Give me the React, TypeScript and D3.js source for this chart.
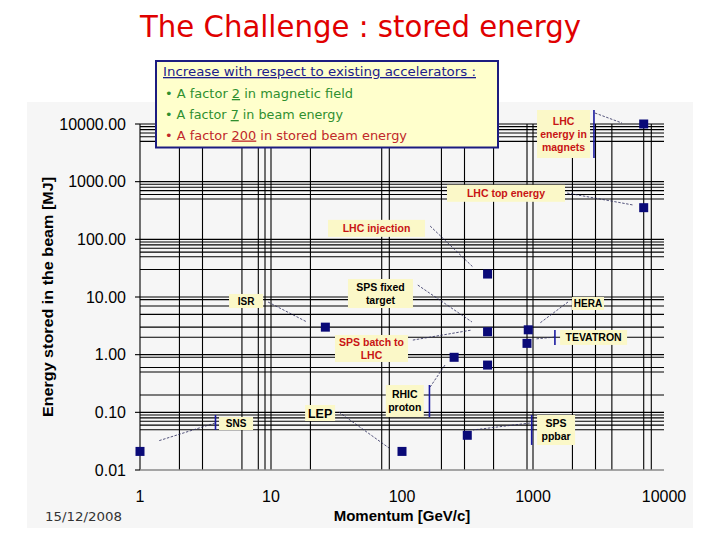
import React from "react";
import * as d3 from "d3";

// ---------- data ----------
const momentumTicks = [1, 10, 100, 1000, 10000];
const momentumTickLabels = ["1", "10", "100", "1000", "10000"];
const energyTicks = [0.01, 0.1, 1, 10, 100, 1000, 10000];
const energyTickLabels = ["0.01", "0.10", "1.00", "10.00", "100.00", "1000.00", "10000.00"];
const momentumGrid = [2, 3, 6, 8, 9, 10, 20, 70, 80, 200, 300, 500, 900, 1000, 2000, 3000, 4000, 7000, 8000];
const energyGrid = [
  10000, 9000, 8000, 7000, 6000, 5000,
  1000, 900, 800, 700, 600, 500,
  100, 90, 80, 70, 60, 50, 30,
  10, 9, 7, 5, 3, 2,
  1, 0.9, 0.6, 0.5, 0.2,
  0.1, 0.09, 0.08, 0.07, 0.06, 0.05,
];

const accelerators = ["SNS", "ISR", "LEP", "RHIC proton", "SPS ppbar", "LHC injection", "SPS fixed target", "SPS batch to LHC", "HERA", "TEVATRON", "LHC energy in magnets", "LHC top energy"];
const momentum = [1, 26, 100, 250, 315, 450, 450, 450, 920, 900, 7000, 7000];
const storedEnergy = [0.021, 3.0, 0.021, 0.9, 0.04, 25, 2.5, 0.66, 2.7, 1.57, 10000, 354];

type Ann = {
  lines: string[];
  red: boolean;
  at: [number, number];
  w: number;
  h: number;
  fs: number;
  leader: [[number, number], [number, number]];
  bar?: [number, number, number];
};

const annotations: Ann[] = [
  { lines: ["LHC", "energy in", "magnets"], red: true, at: [1710, 6710], w: 53, h: 48, fs: 10.5, leader: [[2970, 15500], [4780, 10400]], bar: [2920, 17500, 2570] },
  { lines: ["LHC top energy"], red: true, at: [622, 628], w: 118, h: 17, fs: 10.5, leader: [[1820, 635], [5800, 394]] },
  { lines: ["LHC injection"], red: true, at: [63.9, 155], w: 97, h: 17, fs: 10.5, leader: [[164, 170], [348, 33.1]] },
  { lines: ["SPS fixed", "target"], red: false, at: [68.5, 11.5], w: 65, h: 29, fs: 10.5, leader: [[132, 16.1], [342, 3.69]] },
  { lines: ["ISR"], red: false, at: [6.45, 8.53], w: 34, h: 14, fs: 10, leader: [[9.49, 8.19], [18.8, 3.69]] },
  { lines: ["SPS batch to", "LHC"], red: true, at: [58.5, 1.28], w: 73, h: 27, fs: 10.5, leader: [[121, 1.79], [342, 2.68]] },
  { lines: ["RHIC", "proton"], red: false, at: [105, 0.157], w: 38, h: 32, fs: 10.5, leader: [[164, 0.275], [213, 0.662]], bar: [162, 0.298, 0.083] },
  { lines: ["LEP"], red: false, at: [23.7, 0.0973], w: 30, h: 16, fs: 12.5, leader: [[33.0, 0.101], [79.6, 0.0241]] },
  { lines: ["SNS"], red: false, at: [5.41, 0.064], w: 34, h: 13, fs: 10, leader: [[3.74, 0.0653], [1.37, 0.0318]], bar: [3.77, 0.09, 0.0494] },
  { lines: ["HERA"], red: false, at: [2630, 7.71], w: 32, h: 13, fs: 10, leader: [[1850, 8.19], [1130, 3.54]] },
  { lines: ["TEVATRON"], red: false, at: [2900, 1.99], w: 67, h: 15, fs: 10.5, leader: [[1470, 2.02], [1035, 1.87]], bar: [1470, 2.68, 1.47] },
  { lines: ["SPS", "ppbar"], red: false, at: [1500, 0.0494], w: 38, h: 30, fs: 10.5, leader: [[948, 0.0653], [348, 0.0494]], bar: [977, 0.09, 0.0272] },
];

const ARIAL = "'Liberation Sans', Arial, sans-serif";
const HAND = "'DejaVu Sans', 'Open Sans', sans-serif";

export default function App() {
  const W = 720, H = 540;
  const x = d3.scaleLog().domain([1, 10000]).range([140, 664]);
  const y = d3.scaleLog().domain([0.01, 10000]).range([470, 124]);
  const [x0, x1] = x.range();
  const [y0, y1] = y.range();

  return (
    <svg width={W} height={H} style={{ position: "absolute", left: 0, top: 0, background: "#fff" }}>
      <rect x={0} y={0} width={W} height={H} fill="#ffffff" />
      <rect x={27} y={102} width={666} height={426} fill="#f6f6f6" />

      {/* title */}
      <text x={140} y={37} fontFamily={HAND} fontSize={30} fill="#e00000" textLength={441} lengthAdjust="spacingAndGlyphs">
        The Challenge : stored energy
      </text>

      {/* grid */}
      <g stroke="#000" strokeWidth={1.1}>
        {energyGrid.map((v, i) => (
          <line key={"h" + i} x1={x0} x2={x1} y1={y(v)} y2={y(v)} />
        ))}
        {momentumGrid.map((v, i) => (
          <line key={"v" + i} x1={x(v)} x2={x(v)} y1={y0} y2={y1} />
        ))}
        <line x1={x0} x2={x0} y1={y0} y2={y1} />
        {energyTicks.map((v, i) => (
          <line key={"t" + i} x1={x0 - 5} x2={x0} y1={y(v)} y2={y(v)} />
        ))}
      </g>
      <line x1={x0} x2={x1} y1={y0} y2={y0} stroke="#8a8a8a" strokeWidth={1.5} />

      {/* axes labels */}
      <g fontFamily={ARIAL} fontSize={16} fill="#000">
        {energyTicks.map((v, i) => (
          <text key={"yl" + i} x={126} y={y(v) + 5.5} textAnchor="end">{energyTickLabels[i]}</text>
        ))}
        {momentumTicks.map((v, i) => (
          <text key={"xl" + i} x={x(v)} y={502} textAnchor="middle">{momentumTickLabels[i]}</text>
        ))}
      </g>
      <text x={402} y={521} textAnchor="middle" fontFamily={ARIAL} fontSize={15} fontWeight="bold">Momentum [GeV/c]</text>
      <text transform="translate(53,297) rotate(-90)" textAnchor="middle" fontFamily={ARIAL} fontSize={15} fontWeight="bold" textLength={240} lengthAdjust="spacingAndGlyphs">
        Energy stored in the beam [MJ]
      </text>
      <text x={45} y={521} fontFamily={HAND} fontSize={12.5} fill="#333" textLength={77} lengthAdjust="spacingAndGlyphs">15/12/2008</text>

      {/* leaders */}
      <g stroke="#2a2a5a" strokeWidth={0.8} strokeDasharray="2.5,1.5" fill="none">
        {annotations.map((a, i) => (
          <line key={"ld" + i} x1={x(a.leader[0][0])} y1={y(a.leader[0][1])} x2={x(a.leader[1][0])} y2={y(a.leader[1][1])} />
        ))}
      </g>
      <g stroke="#1a1aa0" strokeWidth={1.6}>
        {annotations.filter((a) => a.bar).map((a, i) => (
          <line key={"bar" + i} x1={x(a.bar![0])} x2={x(a.bar![0])} y1={y(a.bar![1])} y2={y(a.bar![2])} />
        ))}
      </g>

      {/* annotation boxes */}
      {annotations.map((a, i) => {
        const cx = x(a.at[0]);
        const cy = y(a.at[1]);
        const lh = a.fs * 1.25;
        const first = cy - ((a.lines.length - 1) / 2) * lh + a.fs * 0.36;
        return (
          <g key={"an" + i}>
            <rect x={cx - a.w / 2} y={cy - a.h / 2} width={a.w} height={a.h} fill="#fbf8c8" />
            {a.lines.map((l, j) => (
              <text key={j} x={cx} y={first + j * lh} textAnchor="middle" fontFamily={ARIAL} fontWeight="bold" fontSize={a.fs} fill={a.red ? "#c81414" : "#000"}>
                {l}
              </text>
            ))}
          </g>
        );
      })}

      {/* points */}
      <g fill="#0a0a78">
        {momentum.map((m, i) => (
          <rect key={"p" + i} x={x(m) - 4.5} y={y(storedEnergy[i]) - 4.5} width={9} height={9}>
            <title>{accelerators[i]}</title>
          </rect>
        ))}
      </g>

      {/* summary box */}
      <rect x={156} y={61} width={342} height={86.5} fill="#ffffcc" stroke="#1c1c80" strokeWidth={2} />
      <g fontFamily={HAND} fontSize={13}>
        <text x={163} y={76} fill="#1c1c8c" textDecoration="underline" textLength={313} lengthAdjust="spacingAndGlyphs">
          Increase with respect to existing accelerators :
        </text>
        <text x={165} y={98} fill="#2f8f2f" textLength={188} lengthAdjust="spacingAndGlyphs">
          • A factor <tspan textDecoration="underline">2</tspan> in magnetic field
        </text>
        <text x={165} y={119} fill="#2f8f2f" textLength={178} lengthAdjust="spacingAndGlyphs">
          • A factor <tspan textDecoration="underline">7</tspan> in beam energy
        </text>
        <text x={165} y={139.5} fill="#c0282a" textLength={242} lengthAdjust="spacingAndGlyphs">
          • A factor <tspan textDecoration="underline">200</tspan> in stored beam energy
        </text>
      </g>
    </svg>
  );
}
